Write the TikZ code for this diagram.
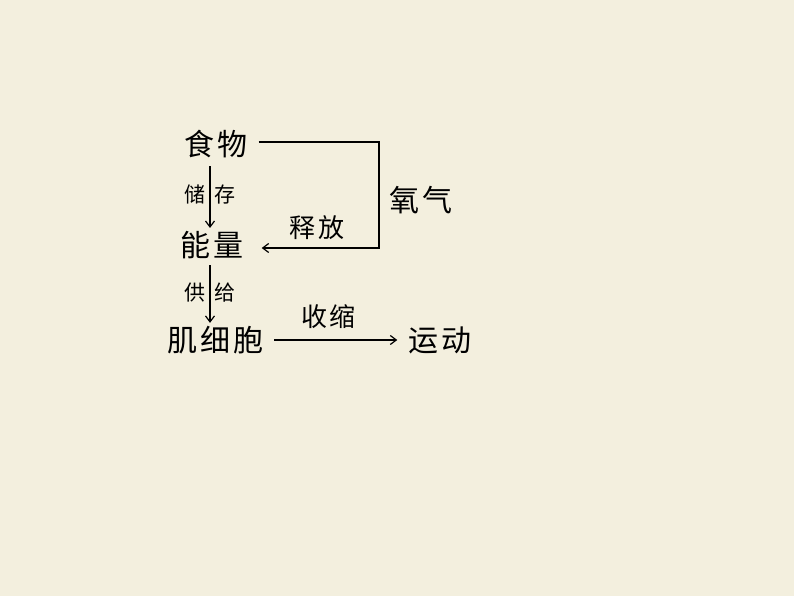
\documentclass[tikz,border=0pt]{standalone}
\usepackage{fontspec}
\usetikzlibrary{arrows.meta}
\newfontfamily\cjk[LetterSpace=10]{Noto Sans CJK SC}
\definecolor{paper}{RGB}{243,239,222}
\begin{document}
\begin{tikzpicture}[x=1pt,y=-1pt]

\tikzstyle{word} = [inner sep=0pt, font=\cjk\fontsize{30}{30}\selectfont]
\tikzstyle{lbl}  = [inner sep=0pt, font=\cjk\fontsize{21}{21}\selectfont]
\tikzstyle{act}  = [inner sep=0pt, font=\cjk\fontsize{26}{26}\selectfont]
\tikzstyle{flow} = [line width=1.2pt, -{Straight Barb[length=6pt,width=9pt]}, black]

\fill [paper] (0,0) rectangle (794,596);

\node [word] (food)   at (216,144) {食物};
\node [word] (energy) at (212,245) {能量};
\node [word] (cell)   at (215,340) {肌细胞};
\node [word] (move)   at (440,340) {运动};
\node [word] (oxygen) at (421,200) {氧气};
\node [act]  (release) at (317,228) {释放};
\coordinate (turn) at (379,142);

\draw [flow, shorten <=8pt, shorten >=3pt] ([xshift=-6pt]food.south) -- node [lbl] {储\hspace{10pt}存} ([xshift=-2pt]energy.north);
\draw [flow, shorten <=6pt, shorten >=3pt] ([xshift=-2pt]energy.south) -- node [lbl] {供\hspace{10pt}给} ([xshift=-5pt]cell.north);
\draw [flow] ([xshift=11pt]food.east |- turn) -- (turn) |- ([xshift=18pt,yshift=-3pt]energy.east);
\draw [flow] ([xshift=11pt]cell.east) -- node [act, above=11pt, pos=0.44] {收缩} ([xshift=-11pt]move.west);
\end{tikzpicture}
\end{document}
